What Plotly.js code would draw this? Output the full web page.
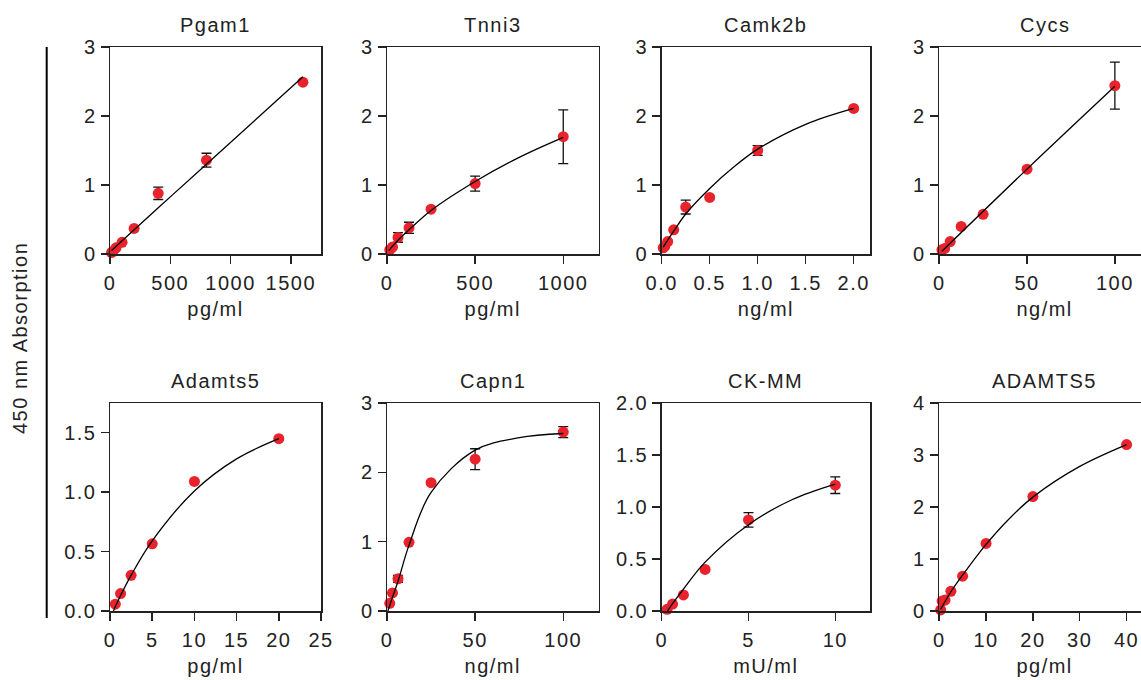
<!DOCTYPE html>
<html>
<head>
<meta charset="utf-8">
<script src="https://cdn.plot.ly/plotly-3.0.1.min.js"></script>
<style>
html,body{margin:0;padding:0;overflow:hidden;background:#fff;}
#chart{width:1160px;height:680px;}
svg text{letter-spacing:1.5px;}
</style>
</head>
<body>
<div id="chart"></div>
<script>
// ---- Panel titles and units ----
const panelTitles = ["Pgam1", "Tnni3", "Camk2b", "Cycs", "Adamts5", "Capn1", "CK-MM", "ADAMTS5"];
const panelUnits = ["pg/ml", "pg/ml", "ng/ml", "ng/ml", "pg/ml", "ng/ml", "mU/ml", "pg/ml"];

// ---- Measured points (mean, error) ----
const pgam1X = [12.5, 25, 50, 100, 200, 400, 800, 1600];
const pgam1Y = [0.02, 0.04, 0.09, 0.17, 0.37, 0.88, 1.36, 2.49];
const pgam1E = [0, 0, 0, 0, 0, 0.09, 0.10, 0];
const pgam1FitX = [12.5, 400, 800, 1600];
const pgam1FitY = [0.05, 0.67, 1.30, 2.57];

const tnni3X = [15.6, 31.25, 62.5, 125, 250, 500, 1000];
const tnni3Y = [0.06, 0.10, 0.24, 0.38, 0.65, 1.02, 1.70];
const tnni3E = [0, 0, 0.07, 0.08, 0, 0.11, 0.39];
const tnni3FitX = [10, 62.5, 125, 250, 500, 750, 1000];
const tnni3FitY = [0.05, 0.20, 0.35, 0.63, 1.05, 1.40, 1.69];

const camk2bX = [0.0156, 0.03125, 0.0625, 0.125, 0.25, 0.5, 1.0, 2.0];
const camk2bY = [0.09, 0.11, 0.18, 0.35, 0.68, 0.82, 1.50, 2.11];
const camk2bE = [0, 0, 0, 0, 0.10, 0, 0.07, 0];
const camk2bFitX = [0.0156, 0.0625, 0.125, 0.25, 0.5, 0.75, 1.0, 1.5, 2.0];
const camk2bFitY = [0.10, 0.20, 0.33, 0.58, 0.95, 1.26, 1.52, 1.88, 2.11];

const cycsX = [1.56, 3.125, 6.25, 12.5, 25, 50, 100];
const cycsY = [0.06, 0.08, 0.18, 0.40, 0.575, 1.23, 2.44];
const cycsE = [0, 0, 0, 0, 0, 0, 0.34];
const cycsFitX = [1.56, 50, 100];
const cycsFitY = [0.04, 1.23, 2.43];

const adamts5X = [0.625, 1.25, 2.5, 5, 10, 20];
const adamts5Y = [0.057, 0.147, 0.30, 0.565, 1.09, 1.45];
const adamts5E = [0, 0, 0, 0, 0, 0];
const adamts5FitX = [0.4, 1.25, 2.5, 5, 10, 15, 20];
const adamts5FitY = [0.0, 0.13, 0.30, 0.59, 1.01, 1.28, 1.45];

const capn1X = [1.5625, 3.125, 6.25, 12.5, 25, 50, 100];
const capn1Y = [0.11, 0.26, 0.465, 0.99, 1.85, 2.19, 2.58];
const capn1E = [0, 0, 0.05, 0, 0, 0.15, 0.08];
const capn1FitX = [0.5, 3.125, 6.25, 12.5, 25, 50, 75, 100];
const capn1FitY = [0.0, 0.20, 0.43, 0.95, 1.71, 2.32, 2.50, 2.56];

const ckmmX = [0.3125, 0.625, 1.25, 2.5, 5, 10];
const ckmmY = [0.016, 0.067, 0.154, 0.40, 0.876, 1.21];
const ckmmE = [0, 0, 0, 0, 0.07, 0.08];
const ckmmFitX = [0.33, 0.625, 1.25, 2.5, 5, 7.5, 10];
const ckmmFitY = [0.0, 0.07, 0.21, 0.47, 0.83, 1.07, 1.22];

const ADAMTS5X = [0.3125, 0.625, 1.25, 2.5, 5, 10, 20, 40];
const ADAMTS5Y = [0.02, 0.19, 0.21, 0.38, 0.67, 1.30, 2.20, 3.20];
const ADAMTS5E = [0, 0, 0, 0, 0, 0, 0, 0];
const ADAMTS5FitX = [0.3, 2.5, 5, 10, 15, 20, 30, 40];
const ADAMTS5FitY = [0.03, 0.37, 0.69, 1.28, 1.78, 2.19, 2.78, 3.20];

// ---- Axis settings ----
const xRanges = [[0, 1750], [0, 1200], [0, 2.17], [0, 120], [0, 25], [0, 120], [0, 12], [0, 45]];
const xDticks = [500, 500, 0.5, 50, 5, 50, 5, 10];
const xFormats = ["", "", ".1f", "", "", "", "", ""];
const yRanges = [[0, 3], [0, 3], [0, 3], [0, 3], [0, 1.75], [0, 3], [0, 2], [0, 4]];
const yDticks = [1, 1, 1, 1, 0.5, 1, 0.5, 1];
const yFormats = ["", "", "", "", ".1f", "", ".1f", ""];
const yAxisTitle = "450 nm Absorption";

const panelsX = [pgam1X, tnni3X, camk2bX, cycsX, adamts5X, capn1X, ckmmX, ADAMTS5X];
const panelsY = [pgam1Y, tnni3Y, camk2bY, cycsY, adamts5Y, capn1Y, ckmmY, ADAMTS5Y];
const panelsE = [pgam1E, tnni3E, camk2bE, cycsE, adamts5E, capn1E, ckmmE, ADAMTS5E];
const fitsX = [pgam1FitX, tnni3FitX, camk2bFitX, cycsFitX, adamts5FitX, capn1FitX, ckmmFitX, ADAMTS5FitX];
const fitsY = [pgam1FitY, tnni3FitY, camk2bFitY, cycsFitY, adamts5FitY, capn1FitY, ckmmFitY, ADAMTS5FitY];

// ---- Layout geometry (pixels) ----
const W = 1160, H = 680;
const colPx = [[110, 321], [387, 598.5], [661.7, 870], [939.2, 1150]];
const rowPx = [[47, 254], [403, 611]];

const FONT = '"Liberation Sans", Arial, Helvetica, sans-serif';
const FS = 20;
const INK = '#222222';
const RED = '#e8232b';

const traces = [];
const layout = {
  width: W, height: H,
  margin: {l: 0, r: 0, t: 0, b: 0, pad: 0},
  paper_bgcolor: '#fff', plot_bgcolor: '#fff',
  showlegend: false,
  font: {family: FONT, color: INK, size: FS},
  annotations: [],
  shapes: []
};

for (let i = 0; i < 8; i++) {
  const r = Math.floor(i / 4), c = i % 4;
  const n = i + 1;
  const xa = 'xaxis' + (n === 1 ? '' : n);
  const ya = 'yaxis' + (n === 1 ? '' : n);
  const xr = 'x' + (n === 1 ? '' : n);
  const yr = 'y' + (n === 1 ? '' : n);
  const xd = [colPx[c][0] / W, colPx[c][1] / W];
  const yd = [(H - rowPx[r][1]) / H, (H - rowPx[r][0]) / H];

  layout[xa] = {
    domain: xd, anchor: yr, range: xRanges[i], dtick: xDticks[i], tick0: 0,
    tickformat: xFormats[i],
    showgrid: false, zeroline: false, showline: true, mirror: true,
    linecolor: INK, linewidth: 1.5, ticks: 'outside', ticklen: 8, tickwidth: 1.5, tickcolor: INK,
    ticklabelstandoff: 2,
    tickfont: {family: FONT, size: FS, color: INK},
    title: {text: panelUnits[i], font: {family: FONT, size: FS, color: INK}, standoff: 9}
  };
  layout[ya] = {
    domain: yd, anchor: xr, range: yRanges[i], dtick: yDticks[i], tick0: 0,
    tickformat: yFormats[i],
    showgrid: false, zeroline: false, showline: true, mirror: true,
    linecolor: INK, linewidth: 1.5, ticks: 'outside', ticklen: 8, tickwidth: 1.5, tickcolor: INK,
    tickfont: {family: FONT, size: FS, color: INK}
  };

  traces.push({
    type: 'scatter', mode: 'markers', x: panelsX[i], y: panelsY[i],
    xaxis: xr, yaxis: yr, cliponaxis: false,
    marker: {color: RED, size: 11, line: {width: 0}},
    error_y: {type: 'data', array: panelsE[i], visible: true, color: '#111', thickness: 1.3, width: 5}
  });
  traces.push({
    type: 'scatter', mode: 'lines', x: fitsX[i], y: fitsY[i],
    xaxis: xr, yaxis: yr, cliponaxis: false,
    line: {color: '#000', width: 1.3, shape: 'spline', smoothing: 1}
  });

  layout.annotations.push({
    text: panelTitles[i], xref: 'paper', yref: 'paper',
    x: (xd[0] + xd[1]) / 2, y: yd[1] + 9 / H, yanchor: 'bottom', xanchor: 'center',
    showarrow: false, font: {family: FONT, size: FS, color: INK}
  });
}

layout.annotations.push({
  text: yAxisTitle, xref: 'paper', yref: 'paper',
  x: 20 / W, y: (H - 338) / H, textangle: -90, showarrow: false,
  xanchor: 'center', yanchor: 'middle',
  font: {family: FONT, size: FS, color: INK}
});
layout.shapes.push({
  type: 'line', xref: 'paper', yref: 'paper',
  x0: 46.7 / W, x1: 46.7 / W, y0: (H - 47) / H, y1: (H - 618) / H,
  line: {color: '#000', width: 2}
});

Plotly.newPlot('chart', traces, layout, {displayModeBar: false, staticPlot: true});
</script>
</body>
</html>
